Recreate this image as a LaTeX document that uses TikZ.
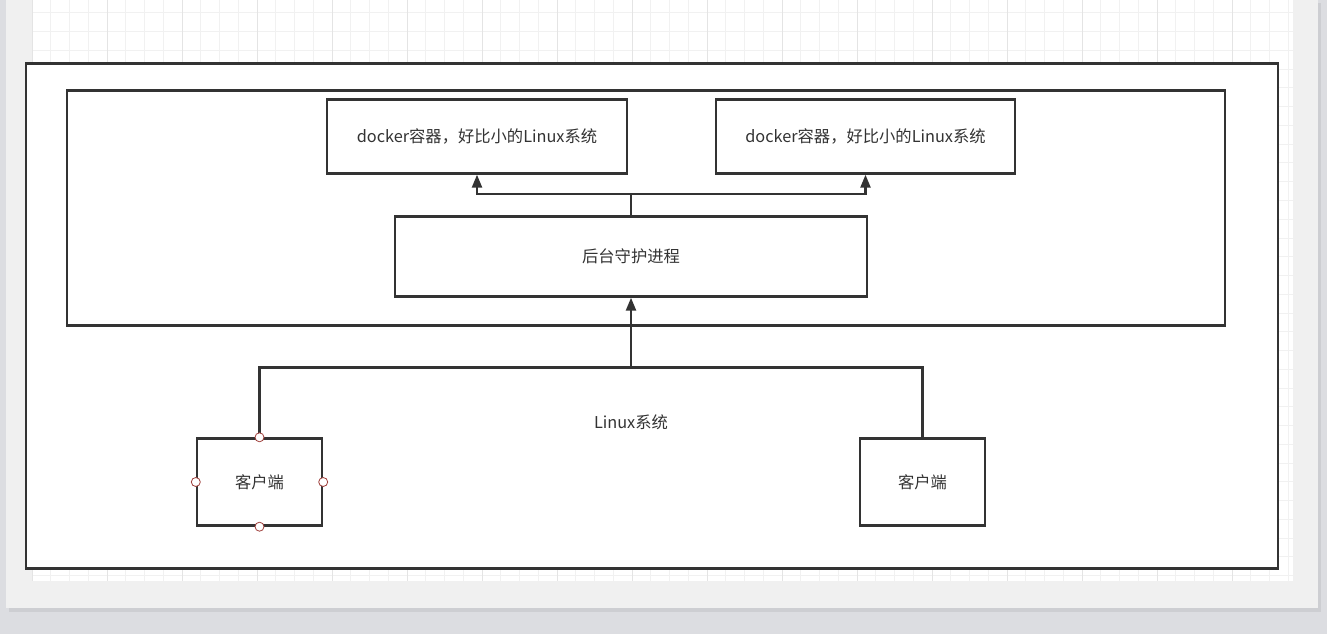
\documentclass[tikz,border=0pt]{standalone}
\usepackage{fontspec}
\setmainfont{Noto Sans CJK SC}
\definecolor{DeskGray}{HTML}{DCDDE1}
\definecolor{PageGray}{HTML}{F0F0F0}
\definecolor{ShadowGray}{HTML}{CDCED2}
\definecolor{GridMinor}{HTML}{F1F1F1}
\definecolor{GridMajor}{HTML}{E4E4E4}
\definecolor{StrokeDark}{HTML}{333333}
\definecolor{HandleRed}{HTML}{A0403C}
\usetikzlibrary{arrows.meta, positioning, calc}
\tikzset{
  box/.style={draw=StrokeDark, line width=2.4pt, fill=white, align=center, inner sep=0pt, text=StrokeDark, font=\fontsize{16.3}{19}\selectfont},
  frame/.style={draw=StrokeDark, line width=2.4pt, fill=white},
  arr/.style={-{Triangle[length=13pt, width=10pt]}, line width=2.4pt, draw=StrokeDark},
  wire/.style={line width=2.4pt, draw=StrokeDark},
  handle/.style={circle, draw=HandleRed, line width=0.8pt, fill=white, minimum size=9pt, inner sep=0pt}
}

\begin{document}
\begin{tikzpicture}[x=1pt, y=-1pt,
  label/.style={text=StrokeDark, font=\fontsize{16.3}{19}\selectfont}
]
% canvas
\fill[DeskGray] (0,0) rectangle (1327,633);
\fill[ShadowGray] (9,3) rectangle (1321,611);
\fill[PageGray] (6,0) rectangle (1318,607);
\fill[white] (32,0) rectangle (1293,580);
\foreach \i in {0,...,67} \draw[GridMinor, line width=1pt] (32+\i*18.75,0) -- (32+\i*18.75,580);
\foreach \j in {0,...,30} \draw[GridMinor, line width=1pt] (32,12.5+\j*18.75) -- (1293,12.5+\j*18.75);
\foreach \i in {0,...,16} \draw[GridMajor, line width=1pt] (32+\i*75,0) -- (32+\i*75,580);
\useasboundingbox (0,0) rectangle (1327,633);

% frames
\draw[frame] (26,63) rectangle (1278,568);
\draw[frame] (67,90) rectangle (1225,325);

% nodes
\node[box, minimum width=300pt, minimum height=74pt] (dock1) at (477,136) {docker容器，好比小的Linux系统};
\node[box, minimum width=299pt, minimum height=74pt] (dock2) at (865.5,136) {docker容器，好比小的Linux系统};
\node[box, minimum width=472pt, minimum height=80pt] (daemon) at (631,256) {后台守护进程};
\node[label] (linux) at (631,422) {Linux系统};
\node[box, minimum width=125pt, minimum height=87pt] (cli1) at (259.5,481.5) {客户端};
\node[box, minimum width=125pt, minimum height=87pt] (cli2) at (922.5,481.5) {客户端};
\coordinate (bus) at (631,367);

% connectors
\draw[arr] (daemon.north) -- ++(0,-21) -| (dock1.south);
\draw[arr] (daemon.north) -- ++(0,-21) -| (dock2.south);
\draw[wire] (cli1.north) |- (bus) -| (cli2.north);
\draw[arr] (bus) -- (daemon.south);

% selection handles
\foreach \a in {north,south,east,west} \node[handle] at (cli1.\a) {};
\end{tikzpicture}
\end{document}
